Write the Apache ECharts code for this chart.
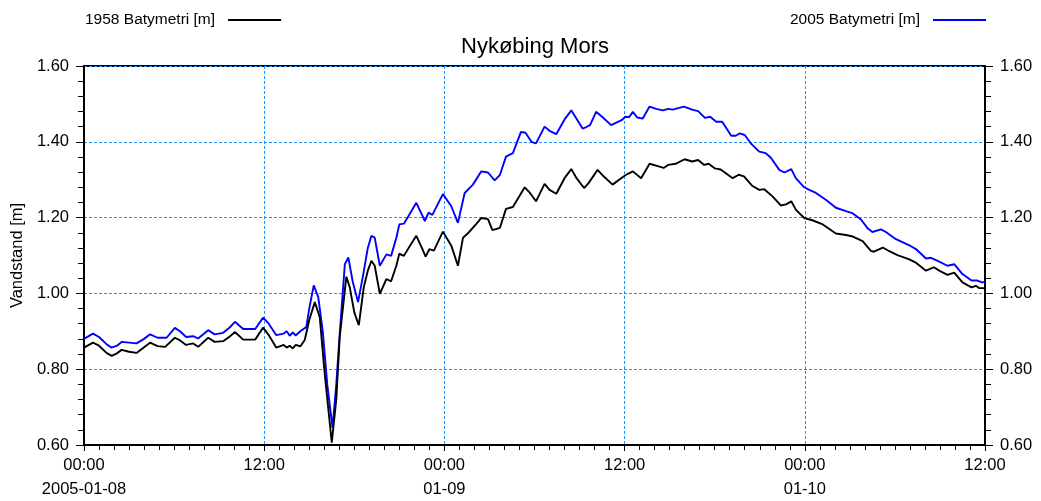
<!DOCTYPE html>
<html>
<head>
<meta charset="utf-8">
<script src="https://cdn.jsdelivr.net/npm/echarts@6/dist/echarts.min.js"></script>
<style>html,body{margin:0;padding:0;background:#fff}#c{width:1041px;height:501px}</style>
</head>
<body>
<div id="c"></div>
<script>
const chartTitle = 'Nykøbing Mors';
const seriesNames = ['1958 Batymetri [m]', '2005 Batymetri [m]'];
const yAxisName = 'Vandstand [m]';
const xTickLabels = ['00:00\n2005-01-08', '12:00', '00:00\n01-09', '12:00', '00:00\n01-10', '12:00'];

// hours since 2005-01-08 00:00
const hours2005 = [0,0.6,1.0,1.5,1.84,2.2,2.5,3.0,3.5,4.0,4.4,4.9,5.5,6.05,6.4,6.8,7.27,7.6,8.27,8.7,9.27,9.7,10.05,10.6,11.4,11.93,12.3,12.8,13.3,13.5,13.7,13.9,14.1,14.4,14.8,15.0,15.3,15.6,15.9,16.2,16.55,16.8,17.03,17.37,17.6,17.9,18.25,18.6,18.9,19.14,19.36,19.7,20.14,20.45,20.8,21.0,21.3,21.7,22.13,22.7,22.95,23.2,23.9,24.46,24.9,25.35,25.9,26.46,26.9,27.35,27.7,28.1,28.56,29.1,29.4,29.8,30.1,30.67,31.0,31.45,32.0,32.45,32.8,33.2,33.45,33.7,34.1,34.5,35.1,35.8,36.05,36.3,36.55,36.85,37.2,37.66,38.1,38.55,38.9,39.2,39.95,40.5,40.9,41.35,41.7,42.1,42.5,43.1,43.4,43.65,44.0,44.4,44.97,45.4,45.74,46.3,46.65,47.1,47.4,47.96,48.3,48.74,49.4,50.07,50.74,51.2,51.74,52.2,52.5,53.07,53.4,54.07,54.96,55.4,56.07,56.4,56.85,57.5,57.95,58.5,59.1,59.5,59.8,60];
const values2005 = [0.880,0.894,0.885,0.866,0.857,0.862,0.872,0.870,0.868,0.880,0.892,0.883,0.883,0.909,0.900,0.885,0.887,0.881,0.903,0.892,0.896,0.910,0.925,0.906,0.906,0.936,0.920,0.890,0.894,0.900,0.888,0.897,0.889,0.900,0.911,0.960,1.021,0.990,0.900,0.760,0.645,0.760,0.894,1.077,1.095,1.030,0.977,1.051,1.120,1.152,1.147,1.073,1.103,1.099,1.147,1.182,1.184,1.210,1.239,1.191,1.213,1.207,1.262,1.230,1.186,1.265,1.287,1.322,1.319,1.298,1.313,1.361,1.370,1.426,1.424,1.400,1.396,1.440,1.429,1.420,1.459,1.483,1.461,1.435,1.439,1.444,1.479,1.466,1.444,1.457,1.466,1.465,1.479,1.464,1.461,1.493,1.487,1.483,1.487,1.485,1.493,1.485,1.481,1.463,1.466,1.453,1.453,1.416,1.416,1.422,1.418,1.396,1.374,1.370,1.358,1.326,1.319,1.328,1.304,1.280,1.273,1.265,1.247,1.226,1.217,1.211,1.195,1.171,1.162,1.169,1.162,1.143,1.127,1.117,1.092,1.094,1.086,1.073,1.077,1.051,1.034,1.034,1.029,1.030];

const hours1958 = [0,0.6,1.0,1.5,1.84,2.2,2.5,3.0,3.5,4.0,4.4,4.9,5.4,6.05,6.4,6.8,7.27,7.6,8.27,8.7,9.27,9.7,10.05,10.6,11.4,11.93,12.3,12.8,13.3,13.5,13.7,13.9,14.1,14.4,14.7,15.0,15.37,15.7,16.0,16.5,16.8,17.03,17.47,17.7,18.0,18.3,18.63,18.9,19.14,19.36,19.7,20.14,20.45,20.8,21.0,21.3,21.7,22.13,22.5,22.75,23.0,23.3,23.9,24.46,24.9,25.24,25.6,26.1,26.46,26.9,27.2,27.7,28.1,28.56,29.35,29.7,30.1,30.67,31.0,31.45,32.0,32.45,32.8,33.3,33.6,34.2,34.6,35.2,35.77,36.1,36.55,37.1,37.66,38.1,38.6,38.9,39.4,40.0,40.5,40.9,41.3,41.6,42.0,42.4,43.2,43.6,43.95,44.5,44.97,45.3,45.85,46.4,46.75,47.1,47.4,47.96,48.5,49.2,50.07,50.74,51.2,51.85,52.4,52.6,53.2,53.6,54.17,54.96,55.4,56.07,56.6,56.95,57.5,57.95,58.5,59.1,59.4,59.6,60];
const values1958 = [0.857,0.870,0.862,0.843,0.835,0.842,0.851,0.846,0.843,0.858,0.870,0.861,0.859,0.883,0.876,0.864,0.868,0.859,0.883,0.872,0.874,0.886,0.898,0.878,0.878,0.910,0.890,0.857,0.864,0.857,0.862,0.855,0.864,0.860,0.877,0.930,0.977,0.937,0.800,0.606,0.720,0.885,1.044,1.016,0.950,0.916,1.016,1.060,1.086,1.073,0.999,1.038,1.032,1.073,1.105,1.099,1.125,1.152,1.120,1.097,1.117,1.113,1.163,1.126,1.073,1.147,1.160,1.182,1.199,1.196,1.167,1.173,1.223,1.228,1.280,1.265,1.243,1.289,1.273,1.263,1.304,1.328,1.304,1.278,1.291,1.326,1.309,1.287,1.304,1.313,1.322,1.304,1.342,1.337,1.331,1.339,1.342,1.354,1.348,1.352,1.339,1.342,1.330,1.327,1.304,1.313,1.309,1.284,1.273,1.275,1.256,1.232,1.235,1.243,1.221,1.199,1.193,1.182,1.158,1.154,1.150,1.138,1.112,1.110,1.121,1.112,1.101,1.090,1.081,1.060,1.069,1.060,1.049,1.055,1.029,1.016,1.020,1.014,1.014];

const FONT = 'Liberation Sans, Arial, sans-serif';
const gridColor = '#1e90ff';

function zip(xs, ys) { return xs.map((x, i) => [x, ys[i]]); }

const chart = echarts.init(document.getElementById('c'), null, { renderer: 'canvas' });

const yCommon = {
  type: 'value', min: 0.6, max: 1.6, interval: 0.2,
  axisLine: { show: true, lineStyle: { color: '#000', width: 2 } },
  axisTick: { show: true, inside: false, length: 8, lineStyle: { color: '#000', width: 1 } },
  minorTick: { show: true, splitNumber: 5, length: 6, lineStyle: { color: '#000', width: 1 } },
  axisLabel: { color: '#000', fontFamily: FONT, fontSize: 16.5, margin: 15, formatter: v => v.toFixed(2) }
};

chart.setOption({
  animation: false,
  backgroundColor: '#fff',
  title: {
    text: chartTitle, left: 535, top: 36, textAlign: 'center', padding: 0,
    textStyle: { fontFamily: FONT, fontSize: 22, fontWeight: 'normal', color: '#000' }
  },
  legend: [
    {
      data: [seriesNames[0]], left: 85, top: 12, align: 'right', padding: 0,
      icon: 'rect', itemWidth: 53, itemHeight: 2, itemGap: 0,
      textStyle: { fontFamily: FONT, fontSize: 15.5, color: '#000', padding: [0, 8, 0, 0] }
    },
    {
      data: [seriesNames[1]], right: 55, top: 12, align: 'right', padding: 0,
      icon: 'rect', itemWidth: 53, itemHeight: 2, itemGap: 0,
      textStyle: { fontFamily: FONT, fontSize: 15.5, color: '#000', padding: [0, 8, 0, 0] }
    }
  ],
  grid: { left: 84, right: 56, top: 66, bottom: 52, show: true, borderColor: '#000', borderWidth: 2, backgroundColor: 'transparent' },
  xAxis: {
    type: 'value', min: 0, max: 60, interval: 12,
    axisLine: { show: true, onZero: false, lineStyle: { color: '#000', width: 2 } },
    axisTick: { show: true, length: 6, lineStyle: { color: '#000', width: 1 } },
    minorTick: { show: true, splitNumber: 12, length: 5, lineStyle: { color: '#000', width: 1 } },
    splitLine: { show: true, lineStyle: { color: gridColor, type: [3, 2], width: 1 } },
    axisLabel: {
      color: '#000', fontFamily: FONT, fontSize: 16.5, lineHeight: 24, margin: 8,
      showMinLabel: true, showMaxLabel: true,
      formatter: v => xTickLabels[Math.round(v / 12)] || ''
    }
  },
  yAxis: [
    Object.assign({}, yCommon, {
      position: 'left',
      name: yAxisName, nameLocation: 'middle', nameGap: 55, nameRotate: 90,
      nameTextStyle: { fontFamily: FONT, fontSize: 16.5, color: '#000' },
      splitLine: { show: true, lineStyle: { color: gridColor, type: [3, 2], width: 1 } }
    }),
    Object.assign({}, yCommon, {
      position: 'right',
      splitLine: { show: false }
    })
  ],
  series: [
    {
      name: seriesNames[0], type: 'line', showSymbol: false, symbol: 'none',
      data: zip(hours1958, values1958), color: '#000',
      lineStyle: { color: '#000', width: 1.9 }, z: 3
    },
    {
      name: seriesNames[1], type: 'line', showSymbol: false, symbol: 'none',
      data: zip(hours2005, values2005), color: '#0000ff',
      lineStyle: { color: '#0000ff', width: 1.9 }, z: 2
    }
  ]
});
</script>
</body>
</html>
